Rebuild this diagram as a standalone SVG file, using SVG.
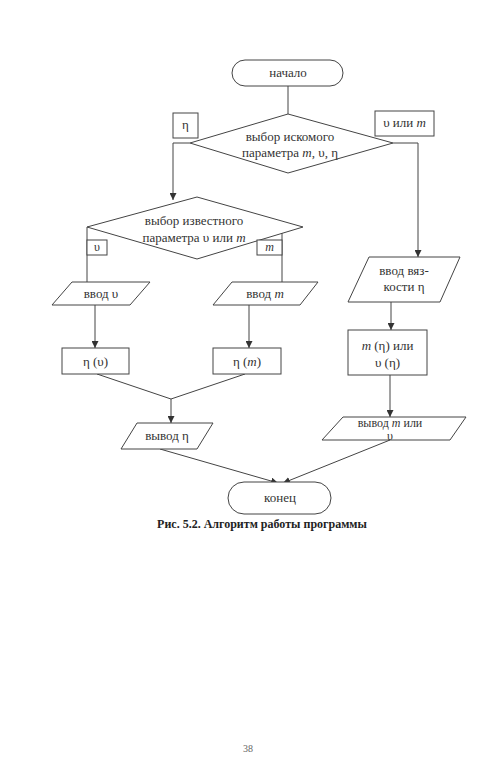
<svg xmlns="http://www.w3.org/2000/svg" width="500" height="781" viewBox="0 0 500 781">
<defs>
<marker id="ah" viewBox="0 0 10 10" refX="10" refY="5" markerWidth="7" markerHeight="7" markerUnits="userSpaceOnUse" orient="auto">
<path d="M0,0 L10,5 L0,10 z" fill="#333"/>
</marker>
<style>
.s{fill:#fff;stroke:#444;stroke-width:1}
.c{fill:none;stroke:#444;stroke-width:1}
.a{marker-end:url(#ah)}
text{font-family:"Liberation Serif","Times New Roman",serif;font-size:13px;fill:#333;text-anchor:middle}
.i{font-style:italic}
.sm{font-size:12px}
.cap{font-weight:bold;font-size:12px;fill:#222}
.pg{font-size:10px;fill:#666}
</style>
</defs>
<rect width="500" height="781" fill="#fff"/>
<g id="connectors">
<line class="c" x1="288" y1="86" x2="288" y2="114"/>
<polyline class="c a" points="190,143 173,143 173,200"/>
<polyline class="c a" points="393,143 418,143 418,257"/>
<line class="c" x1="87" y1="227" x2="87" y2="282"/>
<line class="c" x1="282" y1="227" x2="282" y2="282"/>
<line class="c a" x1="95" y1="305" x2="95" y2="348"/>
<line class="c a" x1="249" y1="305" x2="249" y2="348"/>
<polyline class="c" points="97,374 171,399 245,374"/>
<line class="c a" x1="171" y1="399" x2="171" y2="423"/>
<line class="c a" x1="160" y1="449" x2="278" y2="483"/>
<line class="c a" x1="391" y1="302" x2="391" y2="330"/>
<line class="c a" x1="390" y1="375" x2="390" y2="417"/>
<line class="c a" x1="390" y1="440" x2="283" y2="483"/>
</g>
<g id="start">
<rect class="s" x="232" y="60" width="111" height="26" rx="13"/>
<text x="288" y="77">начало</text>
</g>
<g id="decision1">
<polygon class="s" points="190,143 288,114 393,143 288,173"/>
<text x="290" y="141">выбор искомого</text>
<text x="290" y="157">параметра <tspan class="i">m</tspan>, υ, η</text>
</g>
<g id="label-eta">
<rect class="s" x="173" y="113" width="25" height="25"/>
<text x="185.5" y="129">η</text>
</g>
<g id="label-v-or-m">
<rect class="s" x="375" y="111" width="59" height="25"/>
<text x="404.5" y="127">υ или <tspan class="i">m</tspan></text>
</g>
<g id="decision2">
<polygon class="s" points="87,227 197,197 303,227 197,259"/>
<text x="194" y="225">выбор известного</text>
<text x="194" y="242">параметра υ или <tspan class="i">m</tspan></text>
</g>
<g id="label-v">
<rect class="s" x="87" y="240" width="20" height="15"/>
<text class="sm" x="97" y="251">υ</text>
</g>
<g id="label-m">
<rect class="s" x="257" y="240" width="25" height="15"/>
<text x="269.5" y="251" class="sm i">m</text>
</g>
<g id="input-v">
<polygon class="s" points="72,282 150,282 130,305 52,305"/>
<text x="101" y="298">ввод υ</text>
</g>
<g id="input-m">
<polygon class="s" points="232,282 318,282 300,305 213,305"/>
<text x="265" y="298">ввод <tspan class="i">m</tspan></text>
</g>
<g id="eta-v">
<rect class="s" x="62" y="348" width="67" height="26"/>
<text x="95.5" y="366">η (υ)</text>
</g>
<g id="eta-m">
<rect class="s" x="213" y="348" width="68" height="26"/>
<text x="247" y="366">η (<tspan class="i">m</tspan>)</text>
</g>
<g id="output-eta">
<polygon class="s" points="137,423 213,423 197,449 121,449"/>
<text x="167" y="440">вывод η</text>
</g>
<g id="input-visc">
<polygon class="s" points="369,257 460,257 440,302 348,302"/>
<text x="404" y="275">ввод вяз-</text>
<text x="404" y="291">кости η</text>
</g>
<g id="m-v-eta">
<rect class="s" x="348" y="330" width="79" height="45"/>
<text x="387.5" y="350"><tspan class="i">m</tspan> (η) или</text>
<text x="387.5" y="367">υ (η)</text>
</g>
<g id="output-m-v">
<polygon class="s" points="343,417 466,417 450,440 322,440"/>
<text class="sm" x="390" y="427">вывод <tspan class="i">m</tspan> или</text>
<text class="sm" x="390" y="440">υ</text>
</g>
<g id="end">
<rect class="s" x="228" y="482" width="103" height="32" rx="16"/>
<text x="280" y="502">конец</text>
</g>
<text class="cap" x="262" y="528">Рис. 5.2. Алгоритм работы программы</text>
<text class="pg" x="248" y="752">38</text>
</svg>
